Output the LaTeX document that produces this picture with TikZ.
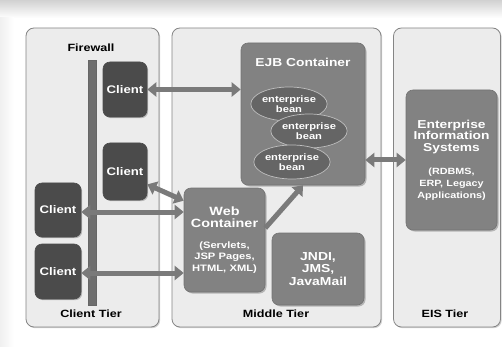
\documentclass[tikz,border=0pt]{standalone}
\usepackage{fontspec}
\setmainfont{Liberation Sans}[FakeStretch=1.2]
\usetikzlibrary{arrows.meta,shadows,shapes.geometric}

\definecolor{paneltone}{HTML}{ECECEC}
\definecolor{panelline}{HTML}{858585}
\definecolor{clienttone}{HTML}{4B4B4B}
\definecolor{boxtone}{HTML}{828282}
\definecolor{beantone}{HTML}{656565}
\definecolor{arrowtone}{HTML}{7A7A7A}
\definecolor{walltone}{HTML}{6E6E6E}

\tikzset{
  panel/.style={draw=panelline, fill=paneltone, rounded corners=8pt, line width=0.8pt,
    drop shadow={shadow xshift=1.2pt, shadow yshift=-1.2pt, opacity=0.35}},
  clientbox/.style={draw=black!70, fill=clienttone, rounded corners=7pt, line width=0.6pt,
    text=white, font=\bfseries\fontsize{11}{12}\selectfont,
    drop shadow={shadow xshift=1.2pt, shadow yshift=-1.2pt, opacity=0.5}},
  graybox/.style={draw=black!55, fill=boxtone, rounded corners=7pt, line width=0.6pt,
    text=white, align=center, font=\bfseries,
    drop shadow={shadow xshift=1.5pt, shadow yshift=-1.5pt, opacity=0.5}},
  beanbox/.style={ellipse, draw=white!75!black, fill=beantone, line width=0.7pt,
    minimum width=64pt, minimum height=34pt, inner sep=0pt, text=white, align=center,
    font=\bfseries\fontsize{9.3}{9.8}\selectfont,
    drop shadow={shadow xshift=1pt, shadow yshift=-1pt, opacity=0.5}},
  tiertitle/.style={font=\bfseries\fontsize{10.5}{12}\selectfont, text=black},
  biarrow/.style={draw=arrowtone, line width=5pt,
    {Triangle[width=14pt,length=9pt]}-{Triangle[width=14pt,length=9pt]}},
  onearrow/.style={draw=arrowtone, line width=5pt, -{Triangle[width=14pt,length=9pt]}}
}

\begin{document}
\begin{tikzpicture}[x=1pt, y={(0pt,-1pt)}]

  \useasboundingbox (0,0) rectangle (502,347);
  \fill[white] (0,0) rectangle (502,347);
  \shade[top color=black!18, bottom color=white] (0,0) rectangle (502,18);
  \shade[left color=black!6, right color=white] (0,18) rectangle (14,347);

  % the three tiers
  \node[panel, minimum width=133pt, minimum height=299pt] (clienttier) at (92.5,177.5) {};
  \node[panel, minimum width=209pt, minimum height=299pt] (middletier) at (276.5,177.5) {};
  \node[panel, minimum width=107pt, minimum height=299pt] (eistier) at (447,177.5) {};

  \node[tiertitle] (fwlabel) at (91,48) {Firewall};
  \node[tiertitle] (clientlabel) at (91,314) {Client Tier};
  \node[tiertitle] (middlelabel) at (276,314) {Middle Tier};
  \node[tiertitle] (eislabel) at (445,314) {EIS Tier};

  % firewall
  \node[draw=black!60, fill=walltone, minimum width=8pt, minimum height=245pt, inner sep=0pt] (wall) at (92,182.5) {};

  % clients
  \node[clientbox, minimum width=44pt, minimum height=55pt] (c1) at (125,89.5) {Client};
  \node[clientbox, minimum width=44pt, minimum height=57pt] (c2) at (125,171.5) {Client};
  \node[clientbox, minimum width=46pt, minimum height=54pt] (c3) at (58,210) {Client};
  \node[clientbox, minimum width=46pt, minimum height=55pt] (c4) at (58,271.5) {Client};

  % middle tier
  \node[graybox, minimum width=124pt, minimum height=142pt] (ejb) at (303,114) {};
  \node[text=white, font=\bfseries\fontsize{11.5}{12}\selectfont] (ejblabel) at (303,62) {EJB Container};
  \node[beanbox] (b1) at (289,104) {enterprise\\bean};
  \node[beanbox] (b2) at (309,131) {enterprise\\bean};
  \node[beanbox] (b3) at (292,162) {enterprise\\bean};

  \node[graybox, minimum width=81pt, minimum height=104pt, text width=79pt, inner sep=1pt] (web) at (224.5,240)
    {\fontsize{12}{11.7}\selectfont Web\\Container\par
     \vspace{10pt}\fontsize{9.3}{10.8}\selectfont (Servlets,\\JSP Pages,\\HTML, XML)};
  \node[graybox, minimum width=92pt, minimum height=72pt, font=\bfseries\fontsize{11.6}{12.5}\selectfont] (jndi) at (318,269)
    {JNDI,\\JMS,\\JavaMail};

  % eis tier
  \node[graybox, minimum width=91pt, minimum height=140pt, text width=89pt, inner sep=1pt] (eis) at (451.5,160)
    {\fontsize{11.5}{11.7}\selectfont Enterprise\\Information\\Systems\par
     \vspace{11pt}\fontsize{9}{12}\selectfont (RDBMS,\\ERP, Legacy\\Applications)};

  % connectors
  \draw[biarrow] (c1.east) -- (c1.east -| ejb.west);
  \draw[biarrow] (c2.-30) -- ([yshift=-13pt]web.north west);
  \draw[biarrow] ([yshift=-2pt]c3.east) -- ([yshift=-2pt]c3.east -| web.west);
  \draw[biarrow] ([yshift=-1.5pt]c4.east) -- ([yshift=-1.5pt]c4.east -| web.west);
  \draw[onearrow] ([yshift=12pt]web.east) -- (ejb.south);
  \draw[biarrow] (eis.west -| ejb.east) -- (eis.west);

\end{tikzpicture}
\end{document}
